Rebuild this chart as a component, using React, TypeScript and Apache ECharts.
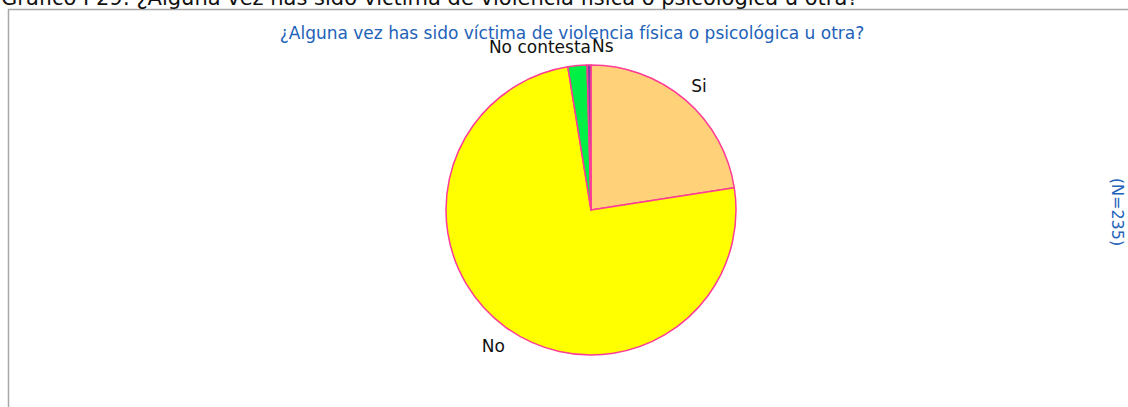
import React, { useEffect, useRef } from "react";
import * as echarts from "echarts";

const categories = ["Si", "No", "No contesta", "Ns"];
const counts = [53, 176, 5, 1];
const sliceColors = ["#FFD27A", "#FFFF00", "#00F046", "#8040A0"];
const heading = "Gráfico I 29: ¿Alguna vez has sido víctima de violencia física o psicológica u otra?";
const chartTitle = "¿Alguna vez has sido víctima de violencia física o psicológica u otra?";
const sampleNote = "(N=235)";

const FONT = "'DejaVu Sans', Verdana, sans-serif";
const CX = 591;
const CY = 210;
const R = 145;

export default function App() {
  const ref = useRef<HTMLDivElement>(null);
  useEffect(() => {
    if (!ref.current) return;
    const chart = echarts.init(ref.current, undefined, { renderer: "svg" });
    const total = counts.reduce((a, b) => a + b, 0);
    const midAngles: number[] = [];
    let acc = 0;
    counts.forEach((c) => {
      midAngles.push(90 - ((acc + c / 2) / total) * 360);
      acc += c;
    });
    const labelAlign: Record<string, string> = { "No contesta": "right", Ns: "left" };
    chart.setOption({
      animation: false,
      backgroundColor: "#ffffff",
      graphic: [
        {
          type: "rect",
          shape: { x: 8.5, y: 9.5, width: 1300, height: 600 },
          style: { fill: "none", stroke: "#A8A8A8", lineWidth: 1.5 },
          z: 0,
        },
        {
          type: "text",
          x: 1,
          y: -2,
          style: { text: heading, font: `21px ${FONT}`, fill: "#111111", verticalAlign: "middle", align: "left" },
        },
        {
          type: "text",
          x: 572,
          y: 33,
          style: { text: chartTitle, font: `17px ${FONT}`, fill: "#2262B8", verticalAlign: "middle", align: "center" },
          z: 10,
        },
        {
          type: "text",
          x: 1117,
          y: 212,
          rotation: -Math.PI / 2,
          style: { text: sampleNote, font: `16px ${FONT}`, fill: "#2262B8", verticalAlign: "middle", align: "center" },
        },
      ],
      series: [
        {
          type: "pie",
          center: [CX, CY],
          radius: R,
          startAngle: 90,
          clockwise: true,
          avoidLabelOverlap: false,
          data: categories.map((name, i) => ({
            name,
            value: counts[i],
            itemStyle: { color: sliceColors[i] },
          })),
          itemStyle: { borderColor: "#FF3C96", borderWidth: 1.5 },
          label: {
            show: true,
            position: "outside",
            formatter: "{b}",
            fontFamily: FONT,
            fontSize: 17,
            color: "#111111",
          },
          labelLine: { show: false, length: 20, length2: 0 },
          labelLayout: (params: any) => {
            const i = params.dataIndex;
            const name = categories[i];
            const th = (midAngles[i] * Math.PI) / 180;
            const rr = R + 21;
            let x = CX + rr * Math.cos(th);
            const y = CY - rr * Math.sin(th) + 2;
            let align = "center";
            if (labelAlign[name] === "right") {
              x = CX;
              align = "right";
            } else if (labelAlign[name] === "left") {
              x = CX + 1;
              align = "left";
            }
            return { x, y, align, verticalAlign: "middle", hideOverlap: false, moveOverlap: null };
          },
        },
      ],
    });
    return () => chart.dispose();
  }, []);
  return (
    <div
      ref={ref}
      style={{ position: "fixed", left: 0, top: 0, width: 1128, height: 407 }}
    />
  );
}
